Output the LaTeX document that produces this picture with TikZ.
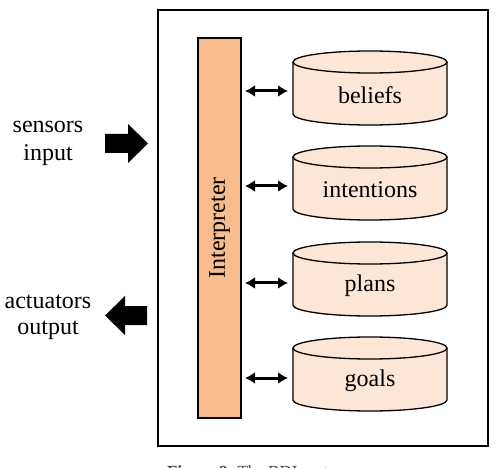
\documentclass[tikz,border=0pt]{standalone}
\usepackage{fontspec}
\setmainfont{Liberation Serif}
\usetikzlibrary{arrows.meta}
\definecolor{barfill}{HTML}{F8BC8E}
\definecolor{cylfill}{HTML}{FBE6D8}
\tikzset{
  cylbox/.style={draw=black, line width=1.3pt, fill=cylfill},
  lbl/.style={font=\fontsize{24}{26}\selectfont, inner sep=0pt},
  dblarrow/.style={{Latex[length=10pt,width=12pt]}-{Latex[length=10pt,width=12pt]}, line width=3pt},
  blockarrow/.style={fill=black, draw=none}
}
\newcommand{\mycyl}[3]{% name, top-centre y, text
  \fill[cylfill] (293,#2) -- (293,#2+52) arc[start angle=180,end angle=360,x radius=77pt,y radius=11pt] -- (447,#2) -- cycle;
  \draw[black, line width=1.3pt] (293,#2) -- (293,#2+52) arc[start angle=180,end angle=360,x radius=77pt,y radius=11pt] -- (447,#2);
  \draw[cylbox] (370,#2) ellipse[x radius=77pt,y radius=11pt];
  \node[lbl] (#1) at (370,#2+33) {#3};
}
\begin{document}
\begin{tikzpicture}[x=1pt,y=-1pt]
\useasboundingbox (0,0) rectangle (496,468);
\clip (0,0) rectangle (496,468);
\fill[white] (0,0) rectangle (496,468);
% outer box
\node[draw=black, line width=2pt, minimum width=330pt, minimum height=436pt, inner sep=0pt] (agent) at (323,228) {};
% interpreter
\node[draw=black, line width=1.5pt, fill=barfill, minimum width=43pt, minimum height=380pt, inner sep=0pt] (interp) at (219.5,228) {};
\node[lbl, rotate=90] (interptext) at (219.5,228) {Interpreter};
% cylinders
\mycyl{beliefs}{62}{beliefs}
\mycyl{intentions}{157}{intentions}
\mycyl{plans}{253}{plans}
\mycyl{goals}{348}{goals}
% double arrows
\foreach \n/\y in {beliefs/91, intentions/186, plans/283, goals/378}{
  \coordinate (a\n) at (245,\y);
  \coordinate (b\n) at (288,\y);
  \draw[dblarrow] (a\n) -- (b\n);
}
% left labels
\node[lbl] (sensors) at (48,127) {sensors};
\node[lbl] (input) at (48,155) {input};
\node[lbl] (actuators) at (48,302) {actuators};
\node[lbl] (output) at (48,330) {output};
% block arrows
\fill[blockarrow] (105,134) -- (128,134) -- (128,124) -- (148,143.5) -- (128,163) -- (128,153) -- (105,153) -- cycle;
\fill[blockarrow] (147,306) -- (125,306) -- (125,296) -- (105,315.5) -- (125,335) -- (125,325) -- (147,325) -- cycle;
% caption (cut off at the lower edge, as in the reference)
\node[anchor=base, font=\fontsize{17}{19}\selectfont, text=black!75, inner sep=0pt] (caption) at (258,477) {\textbf{Figure 9.} The BDI system};
\end{tikzpicture}
\end{document}
